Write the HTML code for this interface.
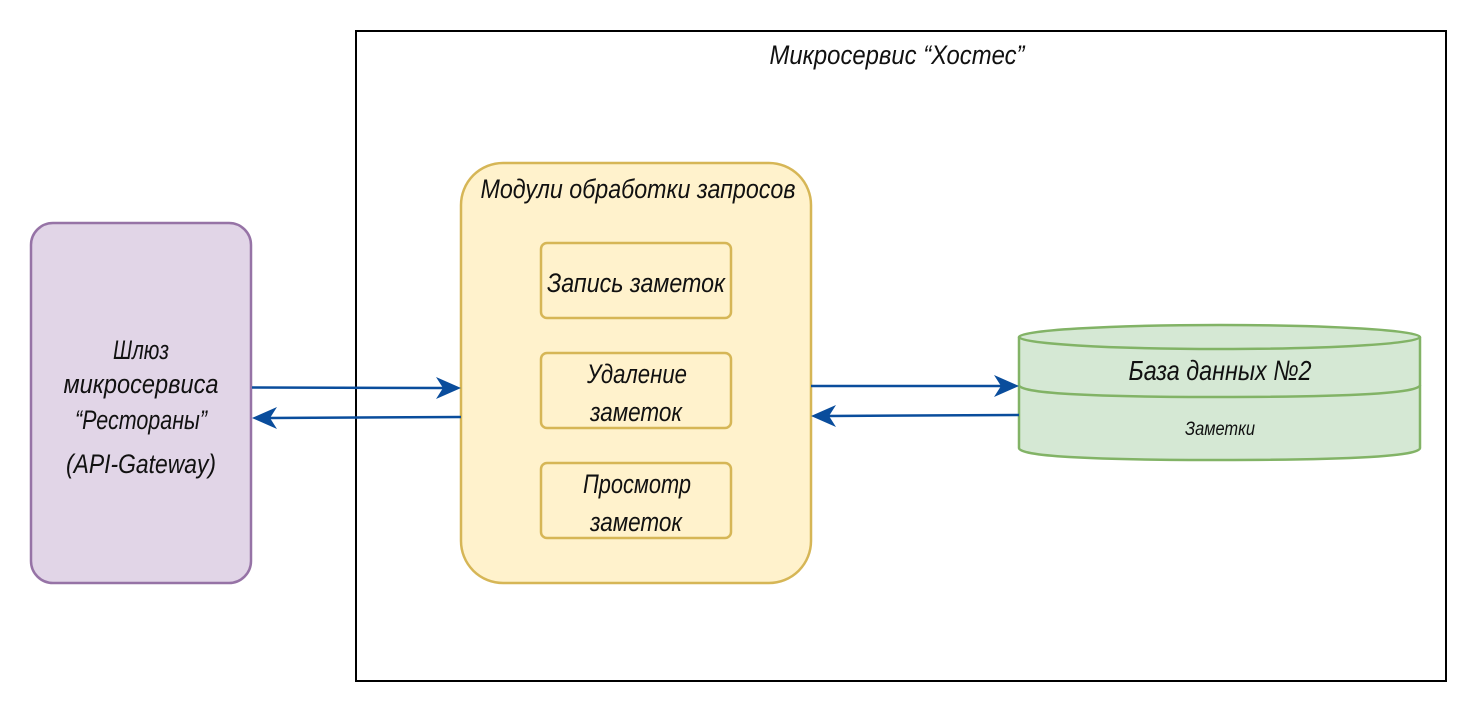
<!DOCTYPE html>
<html><head><meta charset="utf-8"><style>
html,body{margin:0;padding:0;background:#fff;width:1478px;height:713px;overflow:hidden}
text{font-family:"Liberation Sans",sans-serif;font-style:italic;fill:#111;font-weight:300}
</style></head><body>
<svg width="1478" height="713" viewBox="0 0 1478 713" xmlns="http://www.w3.org/2000/svg">
<rect x="356" y="31" width="1090" height="650" fill="#fff" stroke="#000" stroke-width="2"/>
<text x="897" y="64" font-size="27" text-anchor="middle" textLength="255" lengthAdjust="spacingAndGlyphs">Микросервис “Хостес”</text>

<rect x="31" y="223" width="220" height="360" rx="22" fill="#e1d5e7" stroke="#9673a6" stroke-width="2.5"/>
<g font-size="27" text-anchor="middle">
<text x="141" y="359" textLength="56" lengthAdjust="spacingAndGlyphs">Шлюз</text>
<text x="141" y="393" textLength="155" lengthAdjust="spacingAndGlyphs">микросервиса</text>
<text x="141" y="429" textLength="132" lengthAdjust="spacingAndGlyphs">“Рестораны”</text>
<text x="141" y="473" textLength="150" lengthAdjust="spacingAndGlyphs">(API-Gateway)</text>
</g>

<rect x="461" y="163" width="350" height="420" rx="42" fill="#fff2cc" stroke="#d6b656" stroke-width="2.5"/>
<text x="638" y="198" font-size="27" text-anchor="middle" textLength="315" lengthAdjust="spacingAndGlyphs">Модули обработки запросов</text>
<rect x="541" y="243" width="190" height="75" rx="6" fill="#fff2cc" stroke="#d6b656" stroke-width="2.5"/>
<text x="636" y="292" font-size="27" text-anchor="middle" textLength="178" lengthAdjust="spacingAndGlyphs">Запись заметок</text>
<rect x="541" y="353" width="190" height="75" rx="6" fill="#fff2cc" stroke="#d6b656" stroke-width="2.5"/>
<text x="637" y="383" font-size="27" text-anchor="middle" textLength="100" lengthAdjust="spacingAndGlyphs">Удаление</text>
<text x="636" y="421" font-size="27" text-anchor="middle" textLength="92" lengthAdjust="spacingAndGlyphs">заметок</text>
<rect x="541" y="463" width="190" height="75" rx="6" fill="#fff2cc" stroke="#d6b656" stroke-width="2.5"/>
<text x="637" y="493" font-size="27" text-anchor="middle" textLength="108" lengthAdjust="spacingAndGlyphs">Просмотр</text>
<text x="636" y="531" font-size="27" text-anchor="middle" textLength="92" lengthAdjust="spacingAndGlyphs">заметок</text>

<path d="M1019,337 L1019,448 Q1019,460 1220,460 Q1420,460 1420,448 L1420,337" fill="#d5e8d4" stroke="#82b366" stroke-width="2.5"/>
<ellipse cx="1219.5" cy="337" rx="200.5" ry="12" fill="#d5e8d4" stroke="#82b366" stroke-width="2.5"/>
<path d="M1019,385 Q1019,397 1220,397 Q1420,397 1420,385" fill="none" stroke="#82b366" stroke-width="2.5"/>
<text x="1220" y="380" font-size="28" text-anchor="middle" textLength="183" lengthAdjust="spacingAndGlyphs">База данных №2</text>
<text x="1220" y="435" font-size="19" text-anchor="middle" textLength="70" lengthAdjust="spacingAndGlyphs" fill="#333">Заметки</text>

<g stroke="#0a4d9c" stroke-width="2.5" fill="none">
<line x1="252" y1="387.5" x2="445" y2="388"/>
<line x1="461" y1="417" x2="268" y2="418"/>
<line x1="811" y1="386" x2="1003" y2="386"/>
<line x1="1019" y1="415" x2="827" y2="416"/>
</g>
<g fill="#0a4d9c">
<path d="M461,388 L436,377 L443,388 L436,399 Z"/>
<path d="M252,418 L277,407 L270,418 L277,429 Z"/>
<path d="M1019,386 L994,375 L1001,386 L994,397 Z"/>
<path d="M811,416 L836,405 L829,416 L836,427 Z"/>
</g>
</svg>
</body></html>
